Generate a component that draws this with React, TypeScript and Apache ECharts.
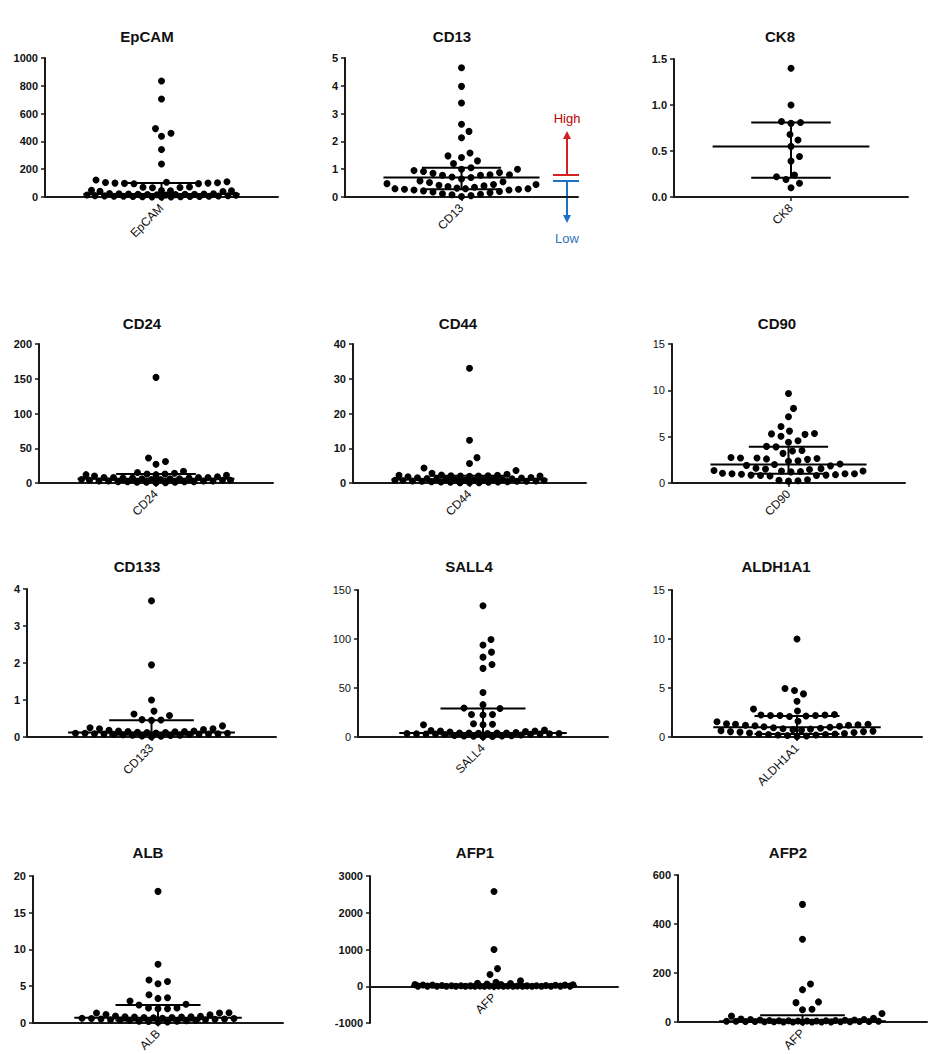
import React, { useEffect, useRef } from 'react';
import * as echarts from 'echarts';

// ---------- DATA ----------
const titles = ['EpCAM', 'CD13', 'CK8', 'CD24', 'CD44', 'CD90', 'CD133', 'SALL4', 'ALDH1A1', 'ALB', 'AFP1', 'AFP2'];
const categories = ['EpCAM', 'CD13', 'CK8', 'CD24', 'CD44', 'CD90', 'CD133', 'SALL4', 'ALDH1A1', 'ALB', 'AFP', 'AFP'];
const yMin = [0, 0, 0, 0, 0, 0, 0, 0, 0, 0, -1000, 0];
const yMax = [1000, 5, 1.5, 200, 40, 15, 4, 150, 15, 20, 3000, 600];
const yStep = [200, 1, 0.5, 50, 10, 5, 1, 50, 5, 5, 1000, 200];

const epcam = [835, 705, 492, 458, 437, 342, 238, 122, 110, 106, 104, 102, 100, 100, 98, 96, 95, 72, 70, 68, 66, 48, 46, 45, 44, 42, 40, 25, 24, 23, 22, 21, 20, 20, 19, 18, 17, 16, 15, 14, 12, 10, 9, 8, 7, 6, 5, 5, 4, 3, 3, 2, 2, 1, 1, 0.5];
const cd13 = [4.65, 3.98, 3.38, 2.62, 2.36, 2.13, 1.58, 1.48, 1.42, 1.3, 1.2, 1.05, 1.0, 1.0, 0.95, 0.92, 0.88, 0.85, 0.8, 0.8, 0.78, 0.78, 0.72, 0.7, 0.65, 0.58, 0.55, 0.52, 0.48, 0.45, 0.45, 0.42, 0.4, 0.38, 0.35, 0.32, 0.3, 0.3, 0.3, 0.28, 0.28, 0.25, 0.25, 0.22, 0.2, 0.18, 0.15, 0.12, 0.1, 0.08, 0.05, 0.02];
const ck8 = [1.4, 1.0, 0.82, 0.81, 0.8, 0.68, 0.62, 0.55, 0.44, 0.39, 0.24, 0.22, 0.19, 0.15, 0.1];
const cd24 = [152, 36, 31, 27, 17, 15, 14, 13, 13, 12, 12, 11, 10, 9, 8, 8, 8, 8, 7, 7, 7, 6, 6, 6, 5, 5, 5, 4, 4, 4, 3, 3, 3, 3, 2, 2, 2, 2, 1, 1, 1, 0.5, 0.5];
const cd44 = [33, 12.3, 7.3, 5.6, 4.3, 3.6, 2.8, 2.5, 2.3, 2.2, 2.2, 2.1, 2.1, 2.0, 2.0, 2.0, 1.9, 1.8, 1.6, 1.5, 1.4, 1.3, 1.2, 1.1, 1.0, 1.0, 1.0, 0.9, 0.9, 0.8, 0.8, 0.8, 0.7, 0.7, 0.6, 0.6, 0.5, 0.5, 0.5, 0.4, 0.4, 0.3, 0.3, 0.2, 0.2, 0.1, 0.1, 0.05];
const cd90 = [9.65, 8.05, 7.15, 6.1, 5.6, 5.35, 5.3, 5.25, 5.05, 4.55, 4.4, 3.95, 3.9, 3.5, 3.45, 3.2, 2.75, 2.7, 2.7, 2.65, 2.6, 2.55, 2.4, 2.35, 2.05, 2.0, 1.9, 1.85, 1.6, 1.55, 1.5, 1.45, 1.35, 1.3, 1.3, 1.25, 1.2, 1.05, 1.0, 1.0, 1.0, 0.95, 0.9, 0.85, 0.85, 0.8, 0.8, 0.75, 0.35, 0.3, 0.25, 0.2];
const cd133 = [3.68, 1.95, 1.0, 0.7, 0.62, 0.58, 0.47, 0.46, 0.45, 0.3, 0.25, 0.22, 0.22, 0.2, 0.18, 0.16, 0.16, 0.15, 0.15, 0.14, 0.13, 0.12, 0.12, 0.11, 0.1, 0.1, 0.1, 0.09, 0.09, 0.08, 0.08, 0.08, 0.07, 0.07, 0.06, 0.05, 0.05, 0.04, 0.03, 0.02, 0.01];
const sall4 = [134, 99.5, 93.8, 86.6, 81.5, 74, 70, 45.4, 33, 29.5, 29, 23, 23, 22.5, 13.5, 13, 12.5, 12.5, 7, 6.5, 6, 6, 5.5, 5, 4.5, 4, 4, 4, 4, 3.8, 3.6, 3.5, 3.5, 3.4, 3.2, 3, 3, 3, 2.8, 2.5, 2, 1.5, 1.2, 1, 1, 0.8, 0.5, 0.3];
const aldh1a1 = [10, 4.95, 4.75, 4.4, 3.65, 2.85, 2.65, 2.3, 2.25, 2.25, 2.2, 2.2, 2.2, 2.15, 2.1, 1.6, 1.55, 1.35, 1.3, 1.3, 1.25, 1.2, 1.2, 1.15, 1.1, 1.05, 1.0, 0.95, 0.9, 0.85, 0.8, 0.75, 0.7, 0.65, 0.6, 0.55, 0.55, 0.5, 0.45, 0.4, 0.35, 0.3, 0.3, 0.25, 0.25, 0.2, 0.2, 0.15, 0.1, 0.05];
const alb = [17.9, 7.95, 5.8, 5.6, 5.3, 3.8, 3.4, 3.3, 2.95, 2.5, 2.4, 2.0, 2.0, 1.9, 1.9, 1.35, 1.3, 1.3, 1.1, 1.05, 0.9, 0.85, 0.8, 0.8, 0.75, 0.75, 0.7, 0.7, 0.65, 0.6, 0.6, 0.55, 0.55, 0.5, 0.5, 0.45, 0.4, 0.4, 0.35, 0.3, 0.3, 0.25, 0.2, 0.2, 0.15, 0.1, 0.05];
const afp1 = [2580, 1000, 480, 320, 150, 110, 80, 75, 60, 50, 45, 40, 35, 30, 30, 25, 20, 20, 15, 15, 12, 10, 10, 8, 8, 6, 5, 5, 4, 4, 3, 3, 2, 2, 2, 1, 1, 1, 0.5, 0.5, 0.5, 0.2, 0.2, 0.1, 0.1];
const afp2 = [480, 338, 155, 132, 82, 79, 52, 50, 35, 24, 15, 12, 10, 10, 8, 8, 7, 6, 6, 5, 5, 5, 4, 4, 4, 3, 3, 3, 2, 2, 2, 2, 1.5, 1, 1, 1, 0.5, 0.5, 0.3, 0.2, 0.1, 0];

const values = [epcam, cd13, ck8, cd24, cd44, cd90, cd133, sall4, aldh1a1, alb, afp1, afp2];
const medians = [22, 0.7, 0.55, 6, 1.0, 2.0, 0.12, 4, 1.0, 0.65, 8, 3];
const q1s = [5, 0.28, 0.21, 2, 0.5, 1.0, 0.06, 2.5, 0.3, 0.3, 1, 1];
const q3s = [100, 1.05, 0.81, 13, 2.1, 3.9, 0.45, 29, 2.15, 2.4, 40, 28];

// ---------- LAYOUT (pixels) ----------
const layout = [
  { left: 45, top: 58, width: 233, height: 139, tx: 147, ty: 38, bold: true },
  { left: 345, top: 58, width: 233, height: 139, tx: 452, ty: 38, bold: true },
  { left: 674, top: 59, width: 234, height: 138, tx: 780, ty: 38, bold: true },
  { left: 39, top: 344, width: 234, height: 139, tx: 142, ty: 325, bold: true },
  { left: 353, top: 344, width: 233, height: 139, tx: 458, ty: 325, bold: true },
  { left: 672, top: 344, width: 233, height: 139, tx: 777, ty: 325, bold: false },
  { left: 27, top: 589, width: 249, height: 148, tx: 137, ty: 568, bold: true },
  { left: 358, top: 590, width: 250, height: 147, tx: 469, ty: 568, bold: false },
  { left: 672, top: 590, width: 250, height: 147, tx: 776, ty: 568, bold: false },
  { left: 33, top: 876, width: 250, height: 147, tx: 148, ty: 854, bold: true },
  { left: 370, top: 876, width: 248, height: 147, tx: 475, ty: 854, bold: true },
  { left: 678, top: 875, width: 249, height: 147, tx: 788, ty: 854, bold: true },
];

const FONT = '"Liberation Sans", Arial, sans-serif';
const DOT = 7;
const SPACING = 9.5;

function swarm(vals: number[], pxPerUnit: number, d: number, cap: number): number[] {
  const idx = vals.map((_, i) => i).sort((a, b) => vals[a] - vals[b]);
  const placed: { x: number; y: number }[] = [];
  const xs: number[] = new Array(vals.length).fill(0);
  const step = 0.5;
  const n = Math.floor(cap / step);
  const offs: number[] = [0];
  for (let k = 1; k <= n; k++) offs.push(k * step, -k * step);
  for (const i of idx) {
    const y = vals[i] * pxPerUnit;
    const near = placed.filter((p) => Math.abs(p.y - y) < d);
    let best = 0;
    let bestScore = -1;
    for (const x of offs) {
      let m = Infinity;
      for (const p of near) {
        const dd = Math.hypot(p.x - x, p.y - y);
        if (dd < m) m = dd;
      }
      if (m >= d - 1e-6) {
        best = x;
        break;
      }
      if (m > bestScore + 1e-9) {
        bestScore = m;
        best = x;
      }
    }
    xs[i] = best;
    placed.push({ x: best, y });
  }
  return xs;
}

function buildOption() {
  const grid: any[] = [];
  const xAxis: any[] = [];
  const yAxis: any[] = [];
  const series: any[] = [];
  const title: any[] = [];

  values.forEach((vals, i) => {
    const L = layout[i];
    const half = L.width / 2;
    grid.push({ left: L.left, top: L.top, width: L.width, height: L.height, containLabel: false });
    const cat = categories[i];
    const pxPerUnit = L.height / (yMax[i] - yMin[i]);
    // lift the category axis to the zero line when the value range extends below zero
    const zeroOffset = yMin[i] < 0 ? -(0 - yMin[i]) * pxPerUnit : 0;
    xAxis.push({
      gridIndex: i,
      type: 'value',
      min: -half,
      max: half,
      offset: zeroOffset,
      axisLine: { show: true, onZero: false, lineStyle: { color: '#1a1a1a', width: 2 } },
      axisTick: { show: true, customValues: [0], length: 4, lineStyle: { color: '#1a1a1a', width: 1.5 } },
      axisLabel: {
        show: true,
        customValues: [0],
        formatter: () => cat,
        rotate: 45,
        fontSize: 12,
        color: '#111',
        fontFamily: FONT,
        margin: 9,
      },
      splitLine: { show: false },
    });
    const step = yStep[i];
    yAxis.push({
      gridIndex: i,
      type: 'value',
      min: yMin[i],
      max: yMax[i],
      interval: step,
      axisLine: { show: true, onZero: false, lineStyle: { color: '#1a1a1a', width: 2 } },
      axisTick: { show: true, length: 4, lineStyle: { color: '#1a1a1a', width: 1.5 } },
      axisLabel: {
        color: '#111',
        fontSize: 11,
        fontWeight: L.bold ? 'bold' : 'normal',
        fontFamily: FONT,
        margin: 7,
        formatter: (v: number) => (step < 1 ? v.toFixed(1) : String(v)),
      },
      splitLine: { show: false },
    });
    title.push({
      text: titles[i],
      left: L.tx,
      top: L.ty - 9,
      textAlign: 'center',
      padding: 0,
      textStyle: { fontSize: 15, fontWeight: 'bold', fontFamily: FONT, color: '#111' },
    });

    const cap = L.width * 0.32;
    const xs = swarm(vals, pxPerUnit, SPACING, cap);
    series.push({
      type: 'scatter',
      xAxisIndex: i,
      yAxisIndex: i,
      symbol: 'circle',
      symbolSize: DOT,
      itemStyle: { color: '#000', opacity: 1 },
      data: vals.map((v, k) => [xs[k], v]),
      z: 2,
    });
    const medHalf = L.width * 0.335;
    const capHalf = L.width * 0.17;
    series.push({
      type: 'custom',
      xAxisIndex: i,
      yAxisIndex: i,
      z: 3,
      data: [[0, medians[i], q1s[i], q3s[i]]],
      renderItem: (params: any, api: any) => {
        const med = api.value(1);
        const lo = api.value(2);
        const hi = api.value(3);
        const seg = (x1: number, y1: number, x2: number, y2: number) => {
          const a = api.coord([x1, y1]);
          const b = api.coord([x2, y2]);
          return {
            type: 'line',
            shape: { x1: a[0], y1: a[1], x2: b[0], y2: b[1] },
            style: { stroke: '#000', lineWidth: 2 },
          };
        };
        return {
          type: 'group',
          children: [
            seg(-medHalf, med, medHalf, med),
            seg(-capHalf, lo, capHalf, lo),
            seg(-capHalf, hi, capHalf, hi),
            seg(0, lo, 0, hi),
          ],
        };
      },
    });
  });

  const red = '#D42020';
  const blue = '#1E72C6';
  const graphic: any[] = [
    { type: 'line', shape: { x1: 553, y1: 175, x2: 579, y2: 175 }, style: { stroke: red, lineWidth: 2 } },
    { type: 'line', shape: { x1: 567, y1: 175, x2: 567, y2: 137 }, style: { stroke: red, lineWidth: 2 } },
    { type: 'polygon', shape: { points: [[563, 139], [571, 139], [567, 131]] }, style: { fill: red } },
    { type: 'line', shape: { x1: 553, y1: 181, x2: 579, y2: 181 }, style: { stroke: blue, lineWidth: 2 } },
    { type: 'line', shape: { x1: 567, y1: 181, x2: 567, y2: 217 }, style: { stroke: blue, lineWidth: 2 } },
    { type: 'polygon', shape: { points: [[563, 215], [571, 215], [567, 223]] }, style: { fill: blue } },
    {
      type: 'text',
      style: { text: 'High', x: 567, y: 118, align: 'center', verticalAlign: 'middle', fill: '#C00000', fontSize: 13, fontFamily: FONT },
    },
    {
      type: 'text',
      style: { text: 'Low', x: 567, y: 238, align: 'center', verticalAlign: 'middle', fill: '#2E75B6', fontSize: 13, fontFamily: FONT },
    },
  ];

  return {
    animation: false,
    backgroundColor: '#ffffff',
    title,
    grid,
    xAxis,
    yAxis,
    series,
    graphic,
  };
}

export default function App() {
  const ref = useRef<HTMLDivElement>(null);
  useEffect(() => {
    if (!ref.current) return;
    const chart = echarts.init(ref.current, null, { renderer: 'svg' });
    chart.setOption(buildOption() as any);
    return () => chart.dispose();
  }, []);
  return <div ref={ref} style={{ position: 'absolute', left: 0, top: 0, width: 933, height: 1054 }} />;
}
